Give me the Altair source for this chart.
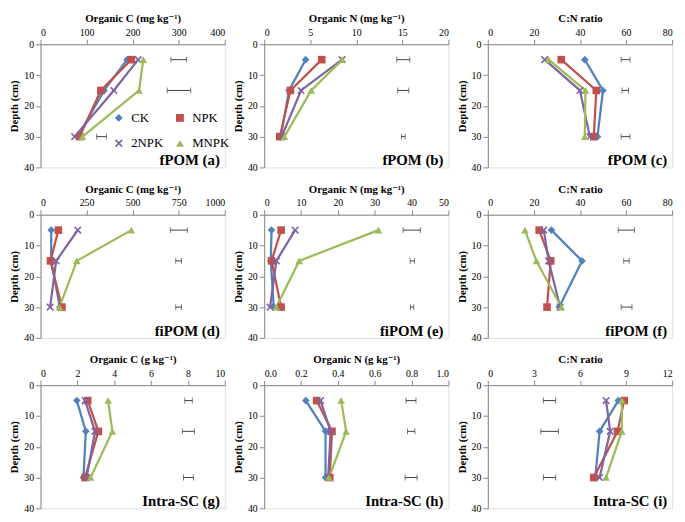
import altair as alt
import pandas as pd

depths = [5, 15, 30]
series = ["CK", "NPK", "2NPK", "MNPK"]
colors = ["#4F81BD", "#C0504D", "#8064A2", "#9BBB59"]
x_path = "M-1,-0.7L-0.7,-1L0,-0.3L0.7,-1L1,-0.7L0.3,0L1,0.7L0.7,1L0,0.3L-0.7,1L-1,0.7L-0.3,0Z"
shapes = ["diamond", "square", x_path, "triangle-up"]

# (a) fPOM organic C (mg/kg)
a_vals = {"CK": [188, 138, 81], "NPK": [197, 131, 85], "2NPK": [212, 159, 74], "MNPK": [223, 214, 91]}
a_lo = [283, 275, 122]
a_hi = [317, 326, 143]
# (b) fPOM organic N (mg/kg)
b_vals = {"CK": [4.5, 2.7, 1.8], "NPK": [6.25, 2.85, 1.7], "2NPK": [8.45, 4.0, 1.9], "MNPK": [8.5, 5.1, 2.2]}
b_lo = [14.4, 14.5, 14.9]
b_hi = [15.8, 15.7, 15.3]
# (c) fPOM C:N
c_vals = {"CK": [42.1, 50.0, 47.6], "NPK": [31.9, 47.1, 46.0], "2NPK": [24.7, 40.0, 44.3], "MNPK": [26.4, 42.4, 42.1]}
c_lo = [57.9, 58.3, 57.9]
c_hi = [61.7, 61.1, 61.7]
# (d) fiPOM organic C (mg/kg)
d_vals = {"CK": [58, 58, 105], "NPK": [97, 54, 116], "2NPK": [202, 85, 52], "MNPK": [493, 197, 103]}
d_lo = [705, 734, 734]
d_hi = [797, 765, 765]
# (e) fiPOM organic N (mg/kg)
e_vals = {"CK": [2.0, 1.8, 2.6], "NPK": [4.6, 2.0, 4.6], "2NPK": [8.4, 3.3, 1.6], "MNPK": [31.0, 9.5, 3.3]}
e_lo = [37.7, 39.6, 39.7]
e_hi = [42.4, 40.8, 40.6]
# (f) fiPOM C:N
f_vals = {"CK": [27.6, 40.9, 31.0], "NPK": [22.3, 27.3, 25.7], "2NPK": [24.3, 26.4, 31.4], "MNPK": [16.1, 21.1, 31.9]}
f_lo = [56.6, 59.0, 57.9]
f_hi = [63.7, 61.4, 62.6]
# (g) Intra-SC organic C (g/kg)
g_vals = {"CK": [1.97, 2.46, 2.33], "NPK": [2.56, 3.14, 2.42], "2NPK": [2.42, 2.96, 2.5], "MNPK": [3.67, 3.9, 2.72]}
g_lo = [7.83, 7.7, 7.76]
g_hi = [8.24, 8.35, 8.3]
# (h) Intra-SC organic N (g/kg)
h_vals = {"CK": [0.226, 0.333, 0.333], "NPK": [0.285, 0.368, 0.356], "2NPK": [0.306, 0.361, 0.347], "MNPK": [0.418, 0.445, 0.352]}
h_lo = [0.77, 0.778, 0.765]
h_hi = [0.824, 0.818, 0.83]
# (i) Intra-SC C:N
i_vals = {"CK": [8.5, 7.28, 7.0], "NPK": [8.88, 8.45, 6.9], "2NPK": [7.7, 7.97, 7.28], "MNPK": [8.73, 8.73, 7.7]}
i_lo = [3.62, 3.45, 3.62]
i_hi = [4.42, 4.6, 4.42]

x_titles = ["Organic C (mg kg⁻¹)", "Organic N (mg kg⁻¹)", "C:N ratio",
            "Organic C (mg kg⁻¹)", "Organic N (mg kg⁻¹)", "C:N ratio",
            "Organic C (g kg⁻¹)", "Organic N (g kg⁻¹)", "C:N ratio"]
panel_labels = ["fPOM (a)", "fPOM (b)", "fPOM (c)",
                "fiPOM (d)", "fiPOM (e)", "fiPOM (f)",
                "Intra-SC (g)", "Intra-SC (h)", "Intra-SC (i)"]
x_ticks = [[0, 100, 200, 300, 400], [0, 5, 10, 15, 20], [0, 20, 40, 60, 80],
           [0, 250, 500, 750, 1000], [0, 10, 20, 30, 40, 50], [0, 20, 40, 60, 80],
           [0, 2, 4, 6, 8, 10], [0, 0.2, 0.4, 0.6, 0.8, 1.0], [0, 3, 6, 9, 12]]
x_formats = ["d", "d", "d", "d", "d", "d", "d", ".1f", "d"]
y_ticks = [0, 10, 20, 30, 40]

all_vals = [a_vals, b_vals, c_vals, d_vals, e_vals, f_vals, g_vals, h_vals, i_vals]
all_lo = [a_lo, b_lo, c_lo, d_lo, e_lo, f_lo, g_lo, h_lo, i_lo]
all_hi = [a_hi, b_hi, c_hi, d_hi, e_hi, f_hi, g_hi, h_hi, i_hi]

W, H = 187, 125
FONT = "'Liberation Serif', 'Times New Roman', 'DejaVu Serif', serif"


def make_panel(k):
    vals = all_vals[k]
    rows = []
    for si, s in enumerate(series):
        for d, v in zip(depths, vals[s]):
            rows.append({"series": s, "depth": d, "value": v, "ord": si})
    df = pd.DataFrame(rows)
    err = pd.DataFrame({"depth": depths, "lo": all_lo[k], "hi": all_hi[k]})
    ticks = x_ticks[k]
    xscale = alt.Scale(domain=[ticks[0], ticks[-1]], nice=False, zero=True)
    yscale = alt.Scale(domain=[0, 40], reverse=True, nice=False)
    xaxis = alt.Axis(orient="top", values=ticks, title=x_titles[k], format=x_formats[k], grid=False)
    yaxis = alt.Axis(values=y_ticks, title="Depth (cm)", grid=False)
    cscale = alt.Scale(domain=series, range=colors)
    sscale = alt.Scale(domain=series, range=shapes)
    if k == 0:
        leg = alt.Legend(orient="none", legendX=73, legendY=68, columns=2, direction="horizontal",
                         title=None, labelFont=FONT, labelFontSize=13, symbolSize=64,
                         columnPadding=10, rowPadding=12, symbolStrokeWidth=0, labelOffset=6)
    else:
        leg = None

    base = alt.Chart(df)
    lines = base.mark_line(strokeWidth=2.25).encode(
        x=alt.X("value:Q", scale=xscale, axis=xaxis),
        y=alt.Y("depth:Q", scale=yscale, axis=yaxis),
        color=alt.Color("series:N", scale=cscale, legend=leg),
        detail="series:N",
        order=alt.Order("depth:Q"),
    )
    points = base.mark_point(filled=True, size=60, opacity=1).encode(
        x=alt.X("value:Q", scale=xscale, axis=xaxis),
        y=alt.Y("depth:Q", scale=yscale, axis=yaxis),
        color=alt.Color("series:N", scale=cscale, legend=leg),
        shape=alt.Shape("series:N", scale=sscale, legend=leg),
        order=alt.Order("ord:Q"),
    )
    ebase = alt.Chart(err)
    erule = ebase.mark_rule(color="#404040", strokeWidth=1).encode(
        x=alt.X("lo:Q", scale=xscale, axis=xaxis),
        x2="hi:Q",
        y=alt.Y("depth:Q", scale=yscale, axis=yaxis),
    )
    cap_lo = ebase.mark_tick(color="#404040", orient="vertical", size=6, thickness=1).encode(
        x=alt.X("lo:Q", scale=xscale, axis=xaxis),
        y=alt.Y("depth:Q", scale=yscale, axis=yaxis),
    )
    cap_hi = ebase.mark_tick(color="#404040", orient="vertical", size=6, thickness=1).encode(
        x=alt.X("hi:Q", scale=xscale, axis=xaxis),
        y=alt.Y("depth:Q", scale=yscale, axis=yaxis),
    )
    lab = alt.Chart(pd.DataFrame({"t": [panel_labels[k]]})).mark_text(
        align="right", baseline="bottom", font=FONT, fontSize=15, fontWeight="bold", color="black"
    ).encode(x=alt.value(W - 5), y=alt.value(H + 1), text="t:N")
    return alt.layer(erule, cap_lo, cap_hi, lines, points, lab).properties(width=W, height=H)


panels = [make_panel(k) for k in range(9)]

chart = alt.concat(
    *panels, columns=3, spacing={"row": 48, "column": 40}, bounds="flush"
).resolve_scale(
    color="independent", shape="independent"
).properties(
    padding={"left": 0, "top": 0, "right": 4, "bottom": 0}
).configure_view(
    stroke=None
).configure_axis(
    domainColor="#595959", tickColor="#595959", tickSize=4, domainWidth=1,
    labelFont=FONT, labelFontSize=12, labelColor="black", labelPadding=1,
    titleFont=FONT, titleFontSize=12, titleFontWeight="bold", titleColor="black", titlePadding=2,
).configure_axisLeft(
    titleFontSize=13
).configure_legend(
    labelFont=FONT
).configure_text(
    font=FONT
).configure(font=FONT)

chart.save("out.html", embed_options={"renderer": "svg", "actions": False})
